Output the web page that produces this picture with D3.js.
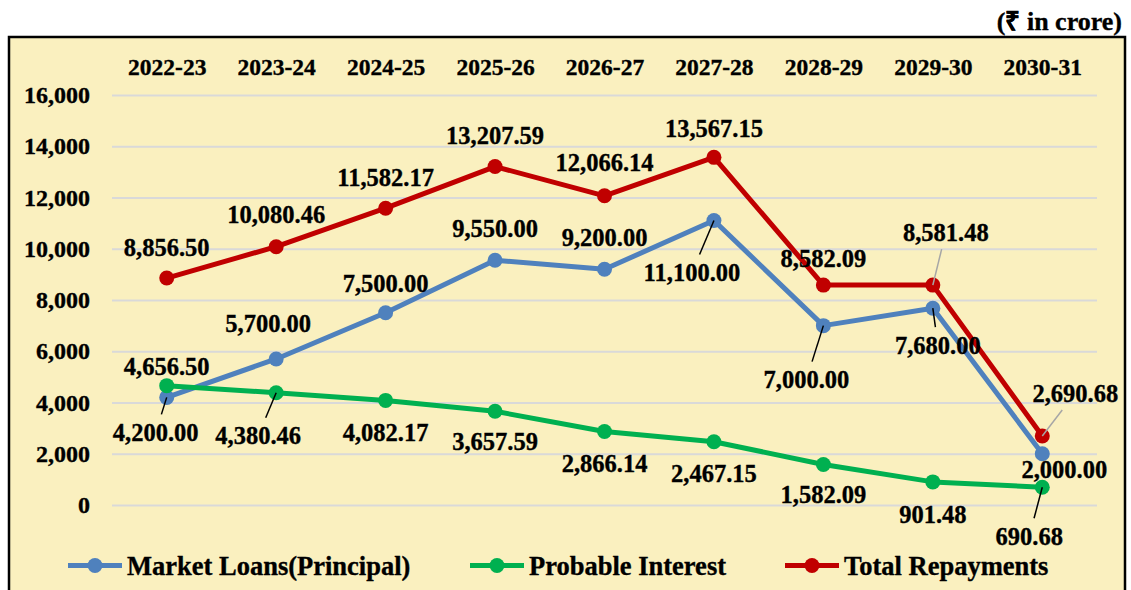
<!DOCTYPE html>
<html>
<head>
<meta charset="utf-8">
<script src="https://cdn.jsdelivr.net/npm/d3@7"></script>
<style>
  body { margin: 0; background: #ffffff; }
  text { font-family: "Liberation Serif", "Times New Roman", serif; font-weight: bold; fill: #000; stroke: #000; stroke-width: 0.35px; }
</style>
</head>
<body>
<script>
// data
var years = ["2022-23", "2023-24", "2024-25", "2025-26", "2026-27", "2027-28", "2028-29", "2029-30", "2030-31"];
var marketLoans = [4200.00, 5700.00, 7500.00, 9550.00, 9200.00, 11100.00, 7000.00, 7680.00, 2000.00];
var probableInterest = [4656.50, 4380.46, 4082.17, 3657.59, 2866.14, 2467.15, 1582.09, 901.48, 690.68];
var totalRepayments = [8856.50, 10080.46, 11582.17, 13207.59, 12066.14, 13567.15, 8582.09, 8581.48, 2690.68];
var yTicks = [0, 2000, 4000, 6000, 8000, 10000, 12000, 14000, 16000];

// label placement (pixel offsets from the point) - layout only
var loanLabelPos = [[-11, 35, 1], [-8, -36, 0], [0, -29, 0], [0, -32, 0], [0, -32, 0], [-22, 52, 1], [-17, 54, 1], [5, 37, 1], [22, 16, 0]];
var interestLabelPos = [[0, -19, 0], [-18, 43, 1], [0, 32, 0], [0, 30, 0], [0, 32, 0], [0, 32, 0], [0, 30, 0], [0, 33, 0], [-13, 49, 1]];
var totalLabelPos = [[0, -31, 0], [0, -32, 0], [0, -31, 0], [0, -31, 0], [0, -33, 0], [0, -29, 0], [0, -27, 0], [13, -53, 1], [33, -43, 1]];

var width = 1131, height = 590;

var svg = d3.select("body").append("svg")
  .attr("width", width)
  .attr("height", height);

// chart box
svg.append("rect")
  .attr("x", 9).attr("y", 37)
  .attr("width", 1116).attr("height", 570)
  .attr("fill", "#FAF0BF")
  .attr("stroke", "#000").attr("stroke-width", 2.5);

svg.append("text")
  .attr("x", 1122).attr("y", 30)
  .attr("text-anchor", "end")
  .style("font-size", "26px")
  .text("(₹ in crore)");

var xScale = d3.scalePoint().domain(years).range([112, 1097]).padding(0.5);
var yScale = d3.scaleLinear().domain([0, 16000]).range([505, 95]);

// gridlines
var grid = svg.append("g").attr("transform", "translate(112,0)")
  .call(d3.axisLeft(yScale).tickValues(yTicks).tickSize(-985).tickFormat(""));
grid.select(".domain").remove();
grid.selectAll("line").attr("stroke", "#D9D9D9").attr("stroke-width", 2);

// y axis
var yAxis = svg.append("g").attr("transform", "translate(112,0)")
  .call(d3.axisLeft(yScale).tickValues(yTicks).tickSize(0).tickPadding(22).tickFormat(d3.format(",")));
yAxis.select(".domain").remove();
yAxis.selectAll("text").style("font-size", "24px").style("font-family", null).attr("fill", "#000");

// x axis (top)
var xAxis = svg.append("g").attr("transform", "translate(0,95)")
  .call(d3.axisTop(xScale).tickSize(0).tickPadding(20));
xAxis.select(".domain").remove();
xAxis.selectAll("text").style("font-size", "23.5px").style("font-family", null).attr("fill", "#000");

var series = [
  { name: "Market Loans(Principal)", values: marketLoans, color: "#4F81BD", pos: loanLabelPos, leader: "#000" },
  { name: "Probable Interest", values: probableInterest, color: "#00B050", pos: interestLabelPos, leader: "#000" },
  { name: "Total Repayments", values: totalRepayments, color: "#C00000", pos: totalLabelPos, leader: "#A6A6A6" }
];

var line = d3.line()
  .x(function(d, i) { return xScale(years[i]); })
  .y(function(d) { return yScale(d); });

var fmt = d3.format(",.2f");

series.forEach(function(s) {
  var g = svg.append("g");
  g.append("path")
    .attr("d", line(s.values))
    .attr("fill", "none")
    .attr("stroke", s.color)
    .attr("stroke-width", 5)
    .attr("stroke-linejoin", "round");
  g.selectAll("circle").data(s.values).enter().append("circle")
    .attr("cx", function(d, i) { return xScale(years[i]); })
    .attr("cy", function(d) { return yScale(d); })
    .attr("r", 7.5)
    .attr("fill", s.color);
});

// data labels and leader lines
series.forEach(function(s) {
  var g = svg.append("g");
  s.values.forEach(function(v, i) {
    var px = xScale(years[i]), py = yScale(v);
    var p = s.pos[i];
    var lx = px + p[0], ly = py + p[1];
    if (p[2]) {
      var endY = p[1] > 0 ? ly - 18 : ly + 17;
      var t = (endY - py) / (ly - py);
      var endX = px + t * (lx - px);
      g.append("line")
        .attr("x1", px).attr("y1", py)
        .attr("x2", endX).attr("y2", endY)
        .attr("stroke", s.leader).attr("stroke-width", 1.5);
    }
    g.append("text")
      .attr("x", lx).attr("y", ly)
      .attr("dy", "0.35em")
      .attr("text-anchor", "middle")
      .style("font-size", "24.5px")
      .text(fmt(v));
  });
});

// legend
var legendX = [68, 470, 785];
var legend = svg.append("g");
series.forEach(function(s, i) {
  var x0 = legendX[i];
  legend.append("line")
    .attr("x1", x0).attr("x2", x0 + 54)
    .attr("y1", 565.5).attr("y2", 565.5)
    .attr("stroke", s.color).attr("stroke-width", 5);
  legend.append("circle")
    .attr("cx", x0 + 27).attr("cy", 565.5).attr("r", 7.5)
    .attr("fill", s.color);
  legend.append("text")
    .attr("x", x0 + 59).attr("y", 565.5)
    .attr("dy", "0.35em")
    .style("font-size", "26.5px")
    .text(s.name);
});
</script>
</body>
</html>
